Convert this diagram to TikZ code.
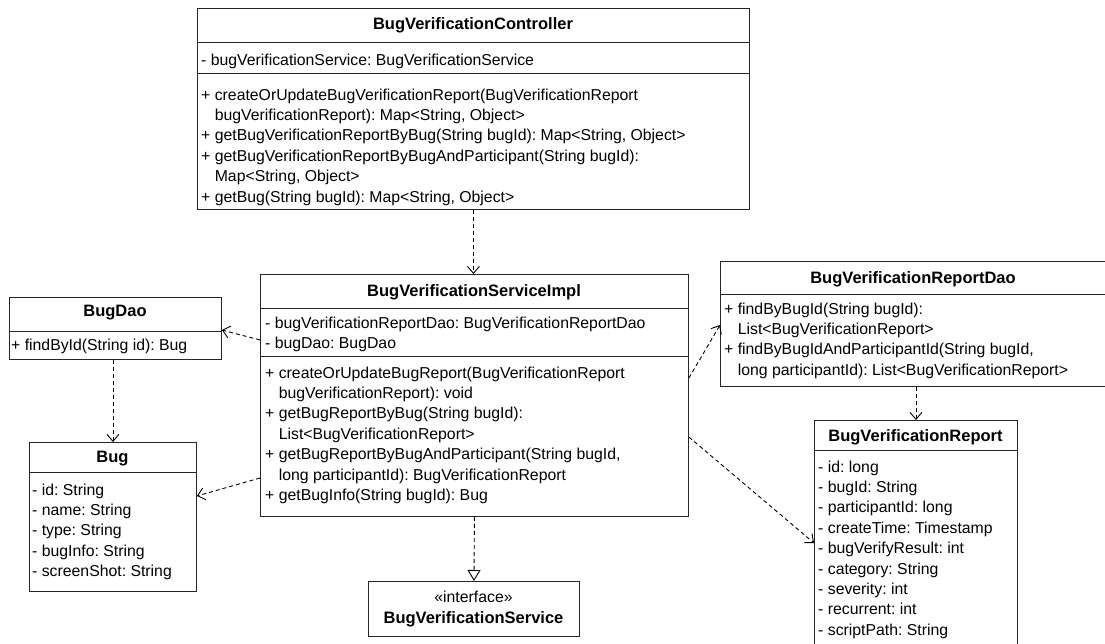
\documentclass[tikz,border=0pt]{standalone}
\usepackage{fontspec}
\setmainfont{Liberation Sans}
\usetikzlibrary{arrows.meta}
\begin{document}
\frenchspacing
\begin{tikzpicture}[x=1pt,y=-1pt,
  box/.style={draw=black!85, line width=0.9pt, anchor=north west, inner sep=0pt},
  sep/.style={draw=black!85, line width=0.9pt},
  ttl/.style={font=\fontsize{16.5}{18}\selectfont\bfseries, inner sep=0pt},
  txt/.style={font=\fontsize{15.8}{20.4}\selectfont, align=left, anchor=north west, inner sep=0pt},
  dep/.style={line width=0.9pt, dash pattern=on 4pt off 3pt, -{Straight Barb[length=7pt,width=12pt,line width=0.9pt]}},
  realz/.style={line width=0.9pt, dash pattern=on 4pt off 3pt, -{Triangle[open,length=11pt,width=13pt,line width=0.9pt]}}]
\clip (0,0) rectangle (1105,643);
\fill[white] (0,0) rectangle (1105,643);
\newcommand{\ind}{\hphantom{+ }}

% BugVerificationController
\node[box, minimum width=552pt, minimum height=201pt] (ctrl) at (197,8) {};
\draw[sep] (197,42) -- (749,42);
\draw[sep] (197,73) -- (749,73);
\node[ttl] (ctrlT) at (473,25) {BugVerificationController};
\node[txt] (ctrlA) at (201,53.5) {- bugVerificationService: BugVerificationService};
\node[txt] (ctrlM) at (201,88.5) {+ createOrUpdateBugVerificationReport(BugVerificationReport\\
\ind bugVerificationReport): Map<String, Object>\\
+ getBugVerificationReportByBug(String bugId): Map<String, Object>\\
+ getBugVerificationReportByBugAndParticipant(String bugId):\\
\ind Map<String, Object>\\
+ getBug(String bugId): Map<String, Object>};

% BugVerificationServiceImpl
\node[box, minimum width=428pt, minimum height=242pt] (impl) at (260,274) {};
\draw[sep] (260,308) -- (688,308);
\draw[sep] (260,356) -- (688,356);
\node[ttl] (implT) at (474,292) {BugVerificationServiceImpl};
\node[txt] (implA) at (265,316.5) {- bugVerificationReportDao: BugVerificationReportDao\\
- bugDao: BugDao};
\node[txt] (implM) at (265,366.5) {+ createOrUpdateBugReport(BugVerificationReport\\
\ind bugVerificationReport): void\\
+ getBugReportByBug(String bugId):\\
\ind List<BugVerificationReport>\\
+ getBugReportByBugAndParticipant(String bugId,\\
\ind long participantId): BugVerificationReport\\
+ getBugInfo(String bugId): Bug};

% interface
\node[box, minimum width=211pt, minimum height=55pt] (iface) at (368,581) {};
\node[txt, anchor=center, align=center] (ifaceT) at (473.5,609) {«interface»\\ \fontsize{16.5}{18}\selectfont\textbf{BugVerificationService}};

% BugDao
\node[box, minimum width=212pt, minimum height=62pt] (bugdao) at (9,297) {};
\draw[sep] (9,331) -- (221,331);
\node[ttl] (bugdaoT) at (115,313) {BugDao};
\node[txt] (bugdaoM) at (11,338.5) {+ findById(String id): Bug};

% Bug
\node[box, minimum width=167pt, minimum height=149pt] (bug) at (29,442) {};
\draw[sep] (29,472) -- (196,472);
\node[ttl] (bugT) at (112.5,459) {Bug};
\node[txt] (bugA) at (32,483.5) {- id: String\\
- name: String\\
- type: String\\
- bugInfo: String\\
- screenShot: String};

% BugVerificationReportDao
\node[box, minimum width=400pt, minimum height=125pt] (rdao) at (720,261) {};
\draw[sep] (720,294) -- (1120,294);
\node[ttl] (rdaoT) at (913,279) {BugVerificationReportDao};
\node[txt] (rdaoM) at (724,302.5) {+ findByBugId(String bugId):\\
\ind List<BugVerificationReport>\\
+ findByBugIdAndParticipantId(String bugId,\\
\ind long participantId): List<BugVerificationReport>};

% BugVerificationReport
\node[box, minimum width=203pt, minimum height=240pt] (report) at (814,420) {};
\draw[sep] (814,450) -- (1017,450);
\node[ttl] (reportT) at (915.5,437) {BugVerificationReport};
\node[txt] (reportA) at (818,460.5) {- id: long\\
- bugId: String\\
- participantId: long\\
- createTime: Timestamp\\
- bugVerifyResult: int\\
- category: String\\
- severity: int\\
- recurrent: int\\
- scriptPath: String};

% connectors
\draw[dep] (ctrl.south) -- (ctrl.south |- impl.north);
\draw[realz] (impl.south) -- (iface.north);
\draw[dep] ([yshift=-66pt]impl.north west) -- ([yshift=-33pt]bugdao.north east);
\draw[dep] ([yshift=-204pt]impl.north west) -- ([yshift=-54pt]bug.north east);
\draw[dep] (bugdao.south -| bug.north) -- (bug.north);
\draw[dep] ([yshift=-104pt]impl.north east) -- ([yshift=-64pt]rdao.north west);
\draw[dep] ([yshift=-163pt]impl.north east) -- ([yshift=-123pt]report.north west);
\draw[dep] (rdao.south -| report.north) -- (report.north);
\end{tikzpicture}
\end{document}
